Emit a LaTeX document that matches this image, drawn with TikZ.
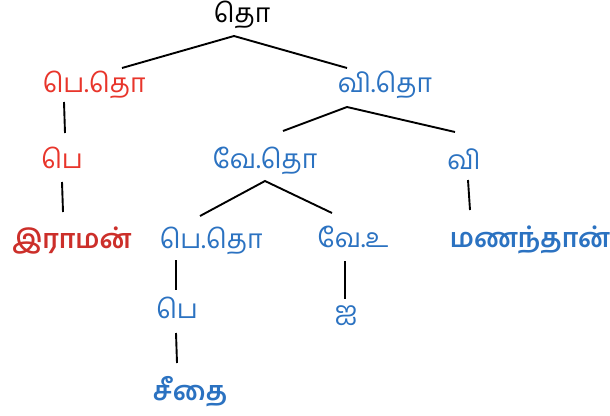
\documentclass[tikz,border=0pt]{standalone}
\usepackage{fontspec}
\newfontfamily\tamil[Script=Tamil]{Hind Madurai}
\definecolor{tred}{HTML}{E8352B}
\definecolor{tdred}{HTML}{CC2F2A}
\definecolor{tblue}{HTML}{2B72C1}
\tikzset{
  lbl/.style={anchor=base, inner sep=0pt, font=\tamil\fontsize{26.5}{30}\selectfont},
  blbl/.style={lbl, font=\tamil\bfseries\fontsize{26.5}{30}\selectfont},
  edge/.style={draw=black, line width=1.9pt}
}
\begin{document}
\begin{tikzpicture}[x=1pt,y=-1pt]
\useasboundingbox (0,0) rectangle (610,415);
\node[lbl] (root) at (242,23) {தொ};
\node[lbl, text=tred] (pet1) at (94,92) {பெ.தொ};
\node[lbl, text=tblue] (vit) at (385,92) {வி.தொ};
\node[lbl, text=tred] (pe1) at (62,168) {பெ};
\node[lbl, text=tblue] (vet) at (265,168) {வே.தொ};
\node[lbl, text=tblue] (vi) at (464,169) {வி};
\node[blbl, text=tdred] (iraman) at (72,248) {இராமன்};
\node[lbl, text=tblue] (pet2) at (211,248) {பெ.தொ};
\node[lbl, text=tblue] (veu) at (353,247) {வே.உ};
\node[blbl, text=tblue] (man) at (530,247) {மணந்தான்};
\node[lbl, text=tblue] (pe2) at (177,318) {பெ};
\node[lbl, text=tblue] (ai) at (346,320) {ஐ};
\node[blbl, text=tblue] (seethai) at (190,400) {சீதை};

\draw[edge] ([shift={(28,-24)}]pet1.base) -- ([shift={(-8,13)}]root.base) -- ([shift={(-38,-24)}]vit.base);
\draw[edge] ([shift={(-30,10)}]pet1.base) -- ([shift={(3,-35)}]pe1.base);
\draw[edge] ([shift={(18,-37)}]vet.base) -- ([shift={(-38,15)}]vit.base) -- ([shift={(-9,-37)}]vi.base);
\draw[edge] ([shift={(0,14)}]pe1.base) -- ([shift={(-9,-36)}]iraman.base);
\draw[edge] ([shift={(-11,-32)}]pet2.base) -- ([shift={(0,13)}]vet.base) -- ([shift={(-21,-34)}]veu.base);
\draw[edge] ([shift={(4,11)}]vi.base) -- ([shift={(-60,-37)}]man.base);
\draw[edge] ([shift={(-35,12)}]pet2.base) -- ([shift={(-1,-28)}]pe2.base);
\draw[edge] ([shift={(-1,15)}]pe2.base) -- ([shift={(-13,-37)}]seethai.base);
\draw[edge] ([shift={(-8,14)}]veu.base) -- ([shift={(-1,-21)}]ai.base);
\end{tikzpicture}
\end{document}
